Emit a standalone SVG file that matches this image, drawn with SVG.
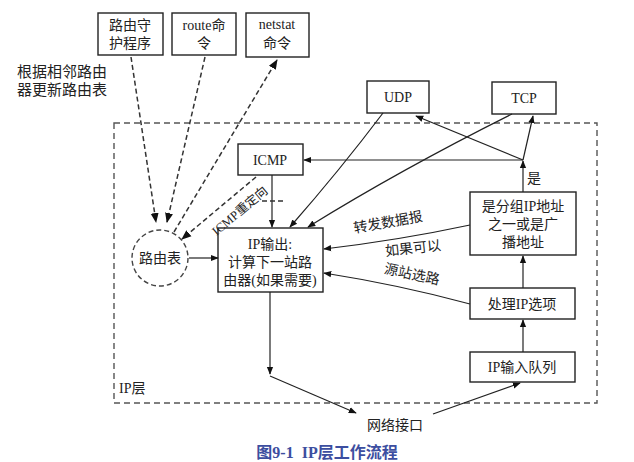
<svg xmlns="http://www.w3.org/2000/svg" width="634" height="462" viewBox="0 0 634 462">
<style>
.box{fill:#fff;stroke:#222;stroke-width:1.4}
.t{font-family:"Liberation Serif","Noto Sans CJK SC",serif;font-size:14px;fill:#222;text-anchor:middle}
.l{fill:none;stroke:#222;stroke-width:1.2}
.d{fill:none;stroke:#333;stroke-width:1.5;stroke-dasharray:5 3}
.a{marker-end:url(#ah)}
</style>
<defs>
<marker id="ah" viewBox="0 0 10 10" refX="9" refY="5" markerWidth="8" markerHeight="8" markerUnits="userSpaceOnUse" orient="auto">
<path d="M0,1 L10,5 L0,9 Z" fill="#111"/>
</marker>
<marker id="ahb" viewBox="0 0 10 10" refX="9" refY="5" markerWidth="10" markerHeight="10" markerUnits="userSpaceOnUse" orient="auto">
<path d="M0,1 L10,5 L0,9 Z" fill="#111"/>
</marker>
</defs>
<rect width="634" height="462" fill="#fff"/>

<g id="ip-layer">
<rect x="114" y="123" width="483" height="280" fill="none" stroke="#555" stroke-width="1.4" stroke-dasharray="6 4"/>
<text class="t" x="119" y="393" style="text-anchor:start">IP层</text>
</g>

<g id="note">
<text class="t" x="62" y="77" style="font-size:15px">根据相邻路由</text>
<text class="t" x="62" y="95" style="font-size:15px">器更新路由表</text>
</g>

<g id="routed">
<rect class="box" x="98" y="13" width="65" height="42"/>
<text class="t" x="130" y="30">路由守</text>
<text class="t" x="130" y="48">护程序</text>
</g>
<g id="route">
<rect class="box" x="172" y="13" width="64" height="42"/>
<text class="t" x="204" y="30">route命</text>
<text class="t" x="204" y="48">令</text>
</g>
<g id="netstat">
<rect class="box" x="246" y="13" width="63" height="44"/>
<text class="t" x="277" y="29">netstat</text>
<text class="t" x="277" y="48">命令</text>
</g>

<g id="udp">
<rect class="box" x="367" y="81" width="62" height="32"/>
<text class="t" x="398" y="102">UDP</text>
</g>
<g id="tcp">
<rect class="box" x="492" y="82" width="64" height="32"/>
<text class="t" x="524" y="103">TCP</text>
</g>

<g id="icmp">
<rect class="box" x="238" y="144" width="65" height="31"/>
<text class="t" x="270" y="165">ICMP</text>
</g>

<g id="route-table">
<ellipse cx="160" cy="258" rx="28" ry="28" fill="#fff" stroke="#444" stroke-width="1.4" stroke-dasharray="5 3"/>
<text class="t" x="160" y="263">路由表</text>
</g>

<g id="ip-output">
<rect class="box" x="218" y="228" width="105" height="64"/>
<text class="t" x="270" y="249">IP输出:</text>
<text class="t" x="270" y="267">计算下一站路</text>
<text class="t" x="270" y="285">由器(如果需要)</text>
</g>

<g id="decision">
<rect class="box" x="470" y="192" width="106" height="63"/>
<text class="t" x="523" y="211">是分组IP地址</text>
<text class="t" x="523" y="229">之一或是广</text>
<text class="t" x="523" y="247">播地址</text>
</g>

<g id="options">
<rect class="box" x="470" y="288" width="105" height="31"/>
<text class="t" x="522" y="309">处理IP选项</text>
</g>

<g id="input-queue">
<rect class="box" x="470" y="352" width="105" height="30"/>
<text class="t" x="522" y="372">IP输入队列</text>
</g>

<g id="netif">
<text class="t" x="395" y="430">网络接口</text>
</g>

<g id="connectors">
<path class="d" d="M131,57 L156,222" marker-end="url(#ahb)"/>
<path class="d" d="M205,57 L167,222" marker-end="url(#ahb)"/>
<path class="d" d="M174,232 L277,60" marker-end="url(#ahb)"/>
<path class="d" d="M256,177 L182,239" marker-end="url(#ahb)"/>
<path class="l a" d="M189,258 L218,258"/>
<path class="l a" d="M272,175 L272,227"/>
<path class="d" d="M262,201 L286,201" stroke-width="1.2"/>
<path class="l a" d="M383,113 Q340,170 290,227"/>
<path class="l a" d="M512,114 Q400,170 308,227"/>
<path class="l a" d="M523,160 L304,160"/>
<path class="l a" d="M523,160 L416,116"/>
<path class="l a" d="M523,160 L533,116"/>
<path class="l a" d="M523,192 L523,161"/>
<path class="l a" d="M523,288 L523,256"/>
<path class="l a" d="M523,352 L523,320"/>
<path class="l a" d="M470,225 Q400,240 324,249"/>
<path class="l a" d="M470,304 Q400,285 324,273"/>
<path class="l a" d="M270,292 L270,374"/>
<path class="l a" d="M270,376 L356,413"/>
<path class="l a" d="M433,414 L520,383"/>
<text class="t" x="534" y="183">是</text>
<text class="t" x="388" y="227" transform="rotate(-10 388 222)">转发数据报</text>
<text class="t" x="413" y="253" transform="rotate(-6 413 248)">如果可以</text>
<text class="t" x="412" y="279" transform="rotate(12 412 274)">源站选路</text>
<text class="t" x="240" y="211" dominant-baseline="central" style="font-size:12.5px" transform="rotate(-40 240 211)">ICMP重定向</text>
</g>

<text class="t" x="327" y="458" style="font-size:16px;fill:#3c4ea0;font-weight:bold" xml:space="preserve">图9-1  IP层工作流程</text>
</svg>
